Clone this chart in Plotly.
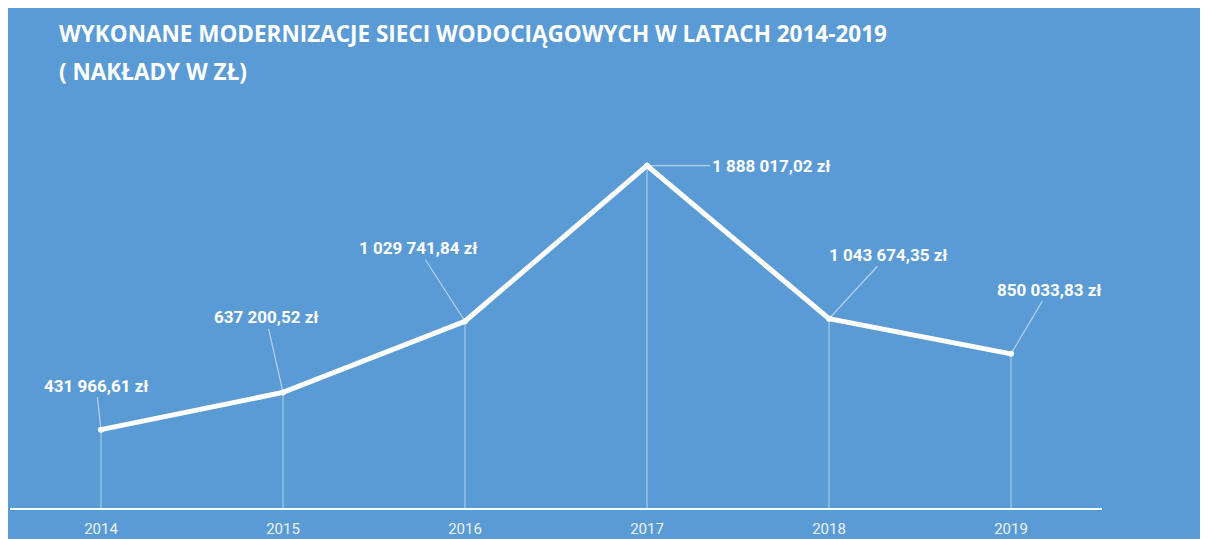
import plotly.graph_objects as go

# data
years = ["2014", "2015", "2016", "2017", "2018", "2019"]
values = [431966.61, 637200.52, 1029741.84, 1888017.02, 1043674.35, 850033.83]
labels = ["431 966,61 zł", "637 200,52 zł", "1 029 741,84 zł",
          "1 888 017,02 zł", "1 043 674,35 zł", "850 033,83 zł"]
label_dx = [-5, -17, -47, 124, 59, 38]
label_dy = [-44, -75, -73, 0, -64, -64]

BLUE = "#5b9bd5"
W, H = 1208, 539
L, R, T, B = 2, 114, 92, 39
pw, ph = W - L - R, H - T - B
OFF = 8  # page body margin

fig = go.Figure()

# drop lines + main line
fig.add_trace(go.Scatter(
    x=years, y=values, mode="lines+markers",
    line=dict(color="white", width=5),
    marker=dict(color="white", size=6),
    error_y=dict(type="data", symmetric=False, array=[0] * len(values),
                 arrayminus=values, color="rgba(255,255,255,0.45)",
                 thickness=1.2, width=0),
    hoverinfo="skip", showlegend=False,
))

# data labels (category axis -> use serial index)
for i, (v, lab, dx, dy) in enumerate(zip(values, labels, label_dx, label_dy)):
    fig.add_annotation(x=i, y=v, xref="x", yref="y", text="<b>" + lab + "</b>",
                       showarrow=True, arrowhead=0, arrowwidth=1.2,
                       arrowcolor="rgba(255,255,255,0.55)",
                       ax=dx, ay=dy, standoff=0,
                       font=dict(family="Roboto, sans-serif", size=17, color="white"))

# title
def px_x(p):
    return (p - OFF - L) / pw

def px_y(p):
    return (H - B - (p - OFF)) / ph

fig.add_annotation(xref="paper", yref="paper", x=px_x(57), y=px_y(34),
                   xanchor="left", yanchor="middle", showarrow=False,
                   text="<b>WYKONANE MODERNIZACJE SIECI WODOCIĄGOWYCH W LATACH 2014-2019</b>",
                   font=dict(family="Open Sans, sans-serif", size=22.5, color="white"))
fig.add_annotation(xref="paper", yref="paper", x=px_x(57), y=px_y(71),
                   xanchor="left", yanchor="middle", showarrow=False,
                   text="<b>( NAKŁADY W ZŁ)</b>",
                   font=dict(family="Open Sans, sans-serif", size=22.5, color="white"))

fig.update_layout(
    width=W, height=H,
    margin=dict(l=L, r=R, t=T, b=B),
    paper_bgcolor=BLUE, plot_bgcolor=BLUE,
    xaxis=dict(type="category", showgrid=False, showline=True, linecolor="white",
               linewidth=2, range=[-0.5, 5.5], ticks="", ticklabelstandoff=6,
               tickfont=dict(family="Roboto, sans-serif", size=15,
                             color="rgba(255,255,255,0.9)")),
    yaxis=dict(range=[0, 2250000], showgrid=False, showticklabels=False,
               zeroline=False, showline=False),
)

fig.write_html("out.html")
